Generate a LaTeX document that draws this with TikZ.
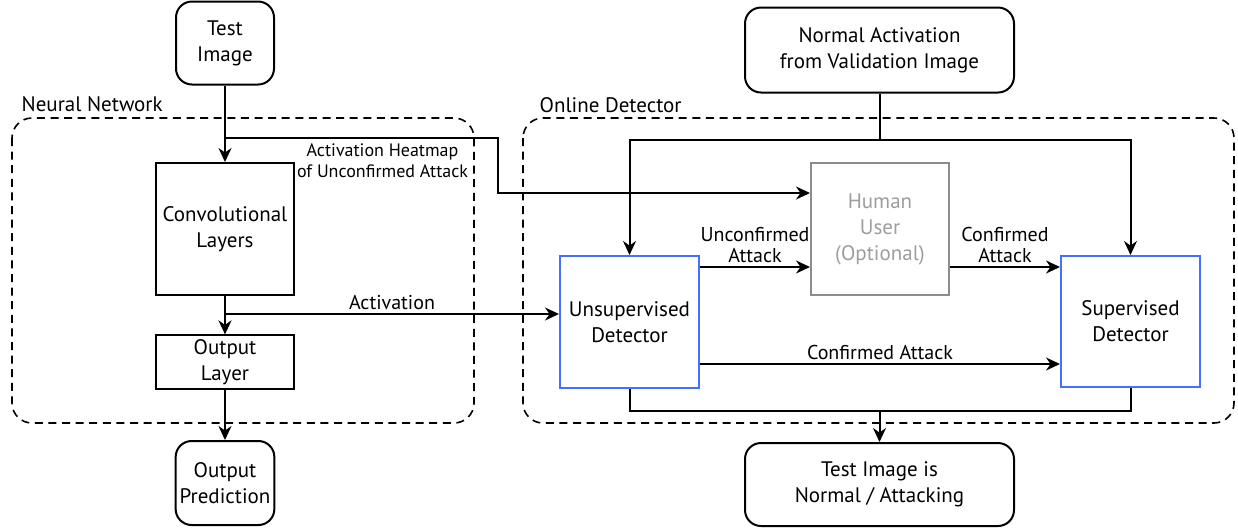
\documentclass[tikz,border=0pt]{standalone}
\usepackage{fontspec}
\setmainfont{PT Sans}
\usetikzlibrary{arrows.meta}

\definecolor{detblue}{RGB}{70,110,255}
\definecolor{usergray}{RGB}{140,140,140}

\begin{document}
\begin{tikzpicture}[x=0.5pt, y=-0.5pt,
    every node/.style={align=center, font=\fontsize{10.5}{13}\selectfont},
    block/.style={draw, line width=1pt, inner sep=2pt},
    term/.style={draw, line width=1pt, rounded corners=8pt, inner sep=2pt},
    group/.style={draw, dash pattern=on 4pt off 2.8pt, line width=0.8pt, rounded corners=10pt},
    edgelabel/.style={font=\fontsize{10}{10.5}\selectfont, inner sep=1.5pt},
    >={Stealth[length=7pt, width=6.5pt]}, line width=1pt]

    \useasboundingbox (0,0) rectangle (1238,527);

    % Groups
    \draw[group] (12,118) rectangle (474,423);
    \draw[group] (523,118) rectangle (1234,423);
    \node[anchor=west] (nnlabel) at (14,104) {Neural Network};
    \node[anchor=west] (odlabel) at (532,105) {Online Detector};

    % Nodes
    \node[term, minimum width=49pt, minimum height=41.5pt] (test) at (225,43) {Test\\Image};
    \node[block, minimum width=69pt, minimum height=66pt] (conv) at (225,229) {Convolutional\\Layers};
    \node[block, minimum width=69pt, minimum height=26pt] (outl) at (225,362) {Output\\Layer};
    \node[term, minimum width=49pt, minimum height=42pt] (pred) at (225,483) {Output\\Prediction};

    \node[term, minimum width=134.5pt, minimum height=42.5pt] (normal) at (879.5,50) {Normal Activation\\from Validation Image};
    \node[block, draw=usergray, text=usergray!85, minimum width=69pt, minimum height=66pt] (human) at (880,229) {Human\\User\\(Optional)};
    \node[block, draw=detblue, minimum width=69.5pt, minimum height=66pt] (unsup) at (629.5,322) {Unsupervised\\Detector};
    \node[block, draw=detblue, minimum width=69.5pt, minimum height=65.5pt] (sup) at (1130.5,321.5) {Supervised\\Detector};
    \node[term, minimum width=134.5pt, minimum height=41.5pt] (result) at (879.5,484.5) {Test Image is\\Normal / Attacking};

    % Branch points
    \coordinate (split1) at (225,138);
    \coordinate (hm1) at (498,138);
    \coordinate (hm2) at (498,193);
    \coordinate (split2) at (225,314);
    \coordinate (nsplit) at (879.5,140);
    \coordinate (merge) at (879.5,411);
    \coordinate (ua) at (0,267);
    \coordinate (ca) at (0,364);

    % Lines
    \draw[->] (test) -- (conv);
    \draw[->] (split1) -- (hm1) -- (hm2) -- (human.west |- hm2);
    \node[edgelabel, anchor=north east, font=\fontsize{9}{10.5}\selectfont] (hmlabel) at (472,140)
        {Activation Heatmap\\of Unconfirmed Attack};

    \draw[->] (conv) -- (outl);
    \draw[->] (split2) -- node[edgelabel, above] (actlabel) {Activation} (unsup.west |- split2);
    \draw[->] (outl) -- (pred);

    \draw (normal) -- (nsplit);
    \draw[->] (nsplit) -| (unsup);
    \draw[->] (nsplit) -| (sup);

    \draw[->] (unsup.east |- ua) -- node[edgelabel, above] (ualabel) {Unconfirmed\\Attack} (human.west |- ua);
    \draw[->] (human.east |- ua) -- node[edgelabel, above] (calabel) {Confirmed\\Attack} (sup.west |- ua);
    \draw[->] (unsup.east |- ca) -- node[edgelabel, above] (ca2label) {Confirmed Attack} (sup.west |- ca);

    \draw (unsup) |- (merge) -| (sup);
    \draw[->] (merge) -- (result);

\end{tikzpicture}
\end{document}
